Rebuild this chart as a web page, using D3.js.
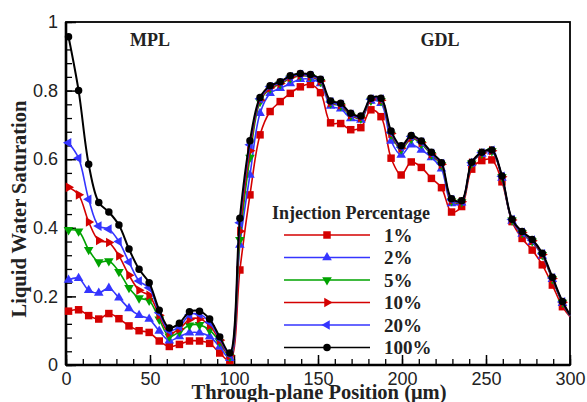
<!DOCTYPE html>
<html>
<head>
<meta charset="utf-8">
<script src="https://cdn.jsdelivr.net/npm/d3@7"></script>
<style>
  html, body { margin: 0; padding: 0; background: #fff; }
  svg { display: block; }
</style>
</head>
<body>
<svg id="chart" width="587" height="402"></svg>
<script>
// Through-plane position of each sample (µm)
const position = [1.5, 7.5, 13.5, 19.5, 25.5, 31.5, 37.5, 43.5, 49.5, 55.5,
  61.5, 67.5, 73.5, 79.5, 85.5, 91.5, 97.5, 103.5, 109.5, 115.5,
  121.5, 127.5, 133.5, 139.5, 145.5, 151.5, 157.5, 163.5, 169.5, 175.5,
  181.5, 187.5, 193.5, 199.5, 205.5, 211.5, 217.5, 223.5, 229.5, 235.5,
  241.5, 247.5, 253.5, 259.5, 265.5, 271.5, 277.5, 283.5, 289.5, 295.5, 300];

// Liquid water saturation for each injection percentage
const sat1 = [0.157, 0.161, 0.144, 0.134, 0.150, 0.135, 0.114, 0.100, 0.095, 0.070,
  0.054, 0.060, 0.070, 0.070, 0.063, 0.035, 0.013, 0.277, 0.496, 0.671,
  0.739, 0.768, 0.792, 0.811, 0.818, 0.794, 0.706, 0.704, 0.686, 0.692,
  0.744, 0.724, 0.603, 0.554, 0.592, 0.576, 0.544, 0.517, 0.446, 0.462,
  0.571, 0.596, 0.598, 0.534, 0.418, 0.369, 0.335, 0.292, 0.233, 0.170, 0.141];
const sat2 = [0.248, 0.253, 0.218, 0.210, 0.224, 0.196, 0.165, 0.145, 0.134, 0.099,
  0.071, 0.083, 0.094, 0.094, 0.083, 0.053, 0.020, 0.350, 0.554, 0.734,
  0.792, 0.807, 0.821, 0.833, 0.833, 0.821, 0.755, 0.747, 0.719, 0.714,
  0.770, 0.763, 0.653, 0.612, 0.642, 0.627, 0.605, 0.572, 0.471, 0.473,
  0.588, 0.615, 0.622, 0.545, 0.420, 0.382, 0.358, 0.318, 0.250, 0.180, 0.143];
const sat5 = [0.394, 0.390, 0.336, 0.300, 0.303, 0.272, 0.225, 0.195, 0.188, 0.133,
  0.083, 0.097, 0.116, 0.117, 0.102, 0.068, 0.024, 0.365, 0.605, 0.768,
  0.806, 0.819, 0.836, 0.843, 0.840, 0.826, 0.763, 0.756, 0.727, 0.719,
  0.771, 0.770, 0.672, 0.629, 0.660, 0.645, 0.613, 0.583, 0.478, 0.475,
  0.588, 0.617, 0.624, 0.548, 0.422, 0.385, 0.361, 0.321, 0.251, 0.182, 0.144];
const sat10 = [0.518, 0.496, 0.417, 0.363, 0.357, 0.318, 0.262, 0.218, 0.203, 0.145,
  0.093, 0.105, 0.133, 0.135, 0.115, 0.072, 0.027, 0.390, 0.625, 0.772,
  0.808, 0.821, 0.838, 0.845, 0.842, 0.828, 0.765, 0.758, 0.729, 0.721,
  0.773, 0.772, 0.675, 0.632, 0.663, 0.648, 0.615, 0.585, 0.480, 0.476,
  0.589, 0.618, 0.625, 0.549, 0.423, 0.386, 0.362, 0.322, 0.252, 0.183, 0.145];
const sat20 = [0.648, 0.603, 0.483, 0.405, 0.396, 0.360, 0.300, 0.245, 0.225, 0.152,
  0.100, 0.112, 0.146, 0.148, 0.125, 0.077, 0.030, 0.415, 0.642, 0.776,
  0.811, 0.823, 0.840, 0.847, 0.844, 0.830, 0.767, 0.760, 0.731, 0.723,
  0.775, 0.775, 0.678, 0.635, 0.666, 0.650, 0.617, 0.587, 0.482, 0.477,
  0.590, 0.619, 0.626, 0.550, 0.424, 0.387, 0.364, 0.324, 0.254, 0.184, 0.145];
const sat100 = [0.957, 0.800, 0.585, 0.474, 0.446, 0.408, 0.338, 0.279, 0.240, 0.160,
  0.108, 0.122, 0.155, 0.157, 0.134, 0.082, 0.035, 0.428, 0.654, 0.780,
  0.814, 0.826, 0.843, 0.850, 0.847, 0.833, 0.770, 0.763, 0.734, 0.726,
  0.778, 0.778, 0.682, 0.639, 0.669, 0.653, 0.620, 0.590, 0.485, 0.479,
  0.591, 0.620, 0.627, 0.551, 0.425, 0.389, 0.366, 0.326, 0.256, 0.185, 0.146];

const seriesNames = ["1%", "2%", "5%", "10%", "20%", "100%"];
const seriesValues = [sat1, sat2, sat5, sat10, sat20, sat100];

const xTicks = [0, 50, 100, 150, 200, 250, 300];
const yTicks = [0, 0.2, 0.4, 0.6, 0.8, 1];
const yTickLabels = ["0", "0.2", "0.4", "0.6", "0.8", "1"];

// Drawing styles per series
const colors = ["#d40000", "#3535ff", "#00a300", "#d40000", "#3535ff", "#000000"];
const markerDefs = [
  { type: d3.symbolSquare, size: 56, rot: 0 },
  { type: d3.symbolTriangle, size: 40, rot: 0 },
  { type: d3.symbolTriangle, size: 40, rot: 180 },
  { type: d3.symbolTriangle, size: 40, rot: 90 },
  { type: d3.symbolTriangle, size: 40, rot: -90 },
  { type: d3.symbolCircle, size: 44, rot: 0 }
];

const svg = d3.select("#chart");
const plotLeft = 66, plotRight = 570, plotTop = 22, plotBottom = 365;
const x = d3.scaleLinear().domain([0, 300]).range([plotLeft, plotRight]);
const y = d3.scaleLinear().domain([0, 1]).range([plotBottom, plotTop]);

const sansFont = "'Liberation Sans', Arial, sans-serif";
const serifFont = "'Liberation Serif', 'Times New Roman', serif";

// Minor ticks (inward)
const xAxisMinor = d3.axisBottom(x).tickValues(d3.range(0, 301, 10)).tickSize(-6).tickFormat("");
const yAxisMinor = d3.axisLeft(y).tickValues(d3.range(0, 1.0001, 0.04)).tickSize(-6).tickFormat("");
svg.append("g").attr("transform", `translate(0,${plotBottom})`).call(xAxisMinor)
  .call(g => g.select(".domain").remove())
  .selectAll("line").attr("stroke", "#000").attr("stroke-width", 1.3);
svg.append("g").attr("transform", `translate(${plotLeft},0)`).call(yAxisMinor)
  .call(g => g.select(".domain").remove())
  .selectAll("line").attr("stroke", "#000").attr("stroke-width", 1.3);

// Major ticks with labels
const xAxis = d3.axisBottom(x).tickValues(xTicks).tickSizeInner(-10).tickSizeOuter(0).tickPadding(7).tickFormat(d3.format("d"));
const yAxis = d3.axisLeft(y).tickValues(yTicks).tickSizeInner(-10).tickSizeOuter(0).tickPadding(8)
  .tickFormat((d, i) => yTickLabels[i]);
const gx = svg.append("g").attr("transform", `translate(0,${plotBottom})`).call(xAxis);
const gy = svg.append("g").attr("transform", `translate(${plotLeft},0)`).call(yAxis);
[gx, gy].forEach(g => {
  g.select(".domain").remove();
  g.selectAll("line").attr("stroke", "#000").attr("stroke-width", 1.5);
  g.selectAll("text").attr("fill", "#222").attr("font-family", sansFont).attr("font-size", 18);
});

// Frame
svg.append("rect").attr("x", plotLeft).attr("y", plotTop).attr("width", plotRight - plotLeft).attr("height", plotBottom - plotTop)
  .attr("fill", "none").attr("stroke", "#000").attr("stroke-width", 1.8);
svg.append("line").attr("x1", plotLeft).attr("x2", plotRight).attr("y1", plotBottom).attr("y2", plotBottom)
  .attr("stroke", "#000").attr("stroke-width", 2.6);
svg.append("line").attr("x1", plotLeft).attr("x2", plotLeft).attr("y1", plotTop).attr("y2", plotBottom)
  .attr("stroke", "#000").attr("stroke-width", 2.6);

// Series lines and markers
const line = d3.line().x(d => x(d[0])).y(d => y(d[1])).curve(d3.curveCatmullRom.alpha(0.5));
seriesValues.forEach((vals, s) => {
  const pts = position.map((p, i) => [p, vals[i]]);
  svg.append("path").datum(pts).attr("d", line).attr("fill", "none")
    .attr("stroke", colors[s]).attr("stroke-width", s === 5 ? 2 : 1.6).attr("stroke-linejoin", "round");
  const m = markerDefs[s];
  svg.append("g").selectAll("path").data(pts.slice(0, pts.length - 1)).join("path")
    .attr("d", d3.symbol().type(m.type).size(m.size))
    .attr("transform", d => `translate(${x(d[0])},${y(d[1])}) rotate(${m.rot})`)
    .attr("fill", colors[s]);
});

// Region labels
svg.append("text").attr("x", 150).attr("y", 46).attr("text-anchor", "middle")
  .attr("font-family", serifFont).attr("font-weight", "bold").attr("font-size", 18).attr("fill", "#222").text("MPL");
svg.append("text").attr("x", 440).attr("y", 46).attr("text-anchor", "middle")
  .attr("font-family", serifFont).attr("font-weight", "bold").attr("font-size", 18).attr("fill", "#222").text("GDL");

// Axis titles
svg.append("text").attr("x", 319).attr("y", 399).attr("text-anchor", "middle")
  .attr("font-family", serifFont).attr("font-weight", "bold").attr("font-size", 20.5).attr("fill", "#222")
  .text("Through-plane Position (\u03bcm)");
svg.append("text").attr("transform", "translate(26,209) rotate(-90)").attr("text-anchor", "middle")
  .attr("font-family", serifFont).attr("font-weight", "bold").attr("font-size", 20.5).attr("fill", "#222")
  .text("Liquid Water Saturation");

// Legend
const legend = svg.append("g");
legend.append("text").attr("x", 351).attr("y", 219).attr("text-anchor", "middle")
  .attr("font-family", serifFont).attr("font-weight", "bold").attr("font-size", 18).attr("fill", "#222")
  .text("Injection Percentage");
seriesNames.forEach((name, s) => {
  const ry = 235 + s * 22.5;
  const m = markerDefs[s];
  legend.append("line").attr("x1", 284).attr("x2", 370).attr("y1", ry).attr("y2", ry)
    .attr("stroke", colors[s]).attr("stroke-width", 1.6);
  legend.append("path").attr("d", d3.symbol().type(m.type).size(m.size))
    .attr("transform", `translate(327,${ry}) rotate(${m.rot})`).attr("fill", colors[s]);
  legend.append("text").attr("x", 384).attr("y", ry + 6.5)
    .attr("font-family", serifFont).attr("font-weight", "bold").attr("font-size", 19).attr("fill", "#222")
    .text(name);
});
</script>
</body>
</html>
